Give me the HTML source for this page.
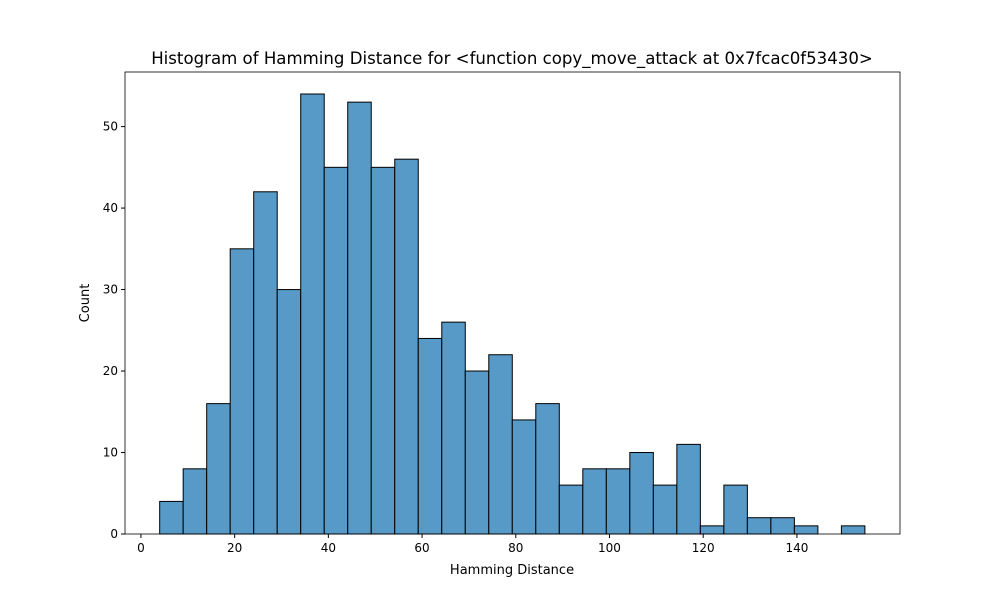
<!DOCTYPE html>
<html><head><meta charset="utf-8"><style>
body{margin:0;background:#fff;font-family:"Liberation Sans","DejaVu Sans",sans-serif}
svg text{font-family:"DejaVu Sans","Liberation Sans",sans-serif}
</style></head><body>
<svg id="chart" width="1000" height="600" xmlns="http://www.w3.org/2000/svg">
<rect width="1000" height="600" fill="#fff"/>
<text x="512" y="64" font-size="16.6" text-anchor="middle">Histogram of Hamming Distance for &lt;function copy_move_attack at 0x7fcac0f53430&gt;</text>
<g id="bars"></g>
<g id="xticks"></g>
<g id="yticks"></g>
<rect x="125" y="72" width="775" height="462" fill="none" stroke="#000" stroke-width="0.8"/>
<text x="512" y="574" font-size="13" text-anchor="middle">Hamming Distance</text>
<text x="89" y="303" font-size="13" text-anchor="middle" transform="rotate(-90 89 303)">Count</text>
</svg>
<script>
const binStart = 4;
const binWidth = 5.017;
const counts = [4,8,16,35,42,30,54,45,53,45,46,24,26,20,22,14,16,6,8,8,10,6,11,1,6,2,2,1,0,1];
const xTicks = [0,20,40,60,80,100,120,140];
const yTicks = [0,10,20,30,40,50];
const X0=125,X1=900,Y0=534,Y1=72;
const xMin=-3.4,xMax=162,yMax=56.7;
const sx=v=>X0+(v-xMin)/(xMax-xMin)*(X1-X0);
const sy=v=>Y0-v/yMax*(Y0-Y1);
const NS="http://www.w3.org/2000/svg";
const bars=document.getElementById('bars');
counts.forEach((c,i)=>{
  if(c<=0) return;
  const a=binStart+i*binWidth,b=a+binWidth;
  const r=document.createElementNS(NS,'rect');
  r.setAttribute('x',sx(a));r.setAttribute('width',sx(b)-sx(a));
  r.setAttribute('y',sy(c));r.setAttribute('height',sy(0)-sy(c));
  r.setAttribute('fill','#5799c7');r.setAttribute('stroke','#000');r.setAttribute('stroke-width','1');
  
  
  bars.appendChild(r);
});
const xg=document.getElementById('xticks');
xTicks.forEach(t=>{
  const x=sx(t);
  const l=document.createElementNS(NS,'line');
  l.setAttribute('x1',x);l.setAttribute('x2',x);l.setAttribute('y1',Y0);l.setAttribute('y2',Y0+4);l.setAttribute('stroke','#000');
  
  
  xg.appendChild(l);
  const tx=document.createElementNS(NS,'text');
  tx.setAttribute('x',x);tx.setAttribute('y',Y0+18);tx.setAttribute('font-size','12');tx.setAttribute('text-anchor','middle');
  tx.textContent=t;
  
  
  xg.appendChild(tx);
});
const yg=document.getElementById('yticks');
yTicks.forEach(t=>{
  const y=sy(t);
  const l=document.createElementNS(NS,'line');
  l.setAttribute('x1',X0-4);l.setAttribute('x2',X0);l.setAttribute('y1',y);l.setAttribute('y2',y);l.setAttribute('stroke','#000');
  
  
  yg.appendChild(l);
  const tx=document.createElementNS(NS,'text');
  tx.setAttribute('x',X0-7);tx.setAttribute('y',y+4);tx.setAttribute('font-size','12');tx.setAttribute('text-anchor','end');
  tx.textContent=t;
  
  
  yg.appendChild(tx);
});
</script>
</body></html>
